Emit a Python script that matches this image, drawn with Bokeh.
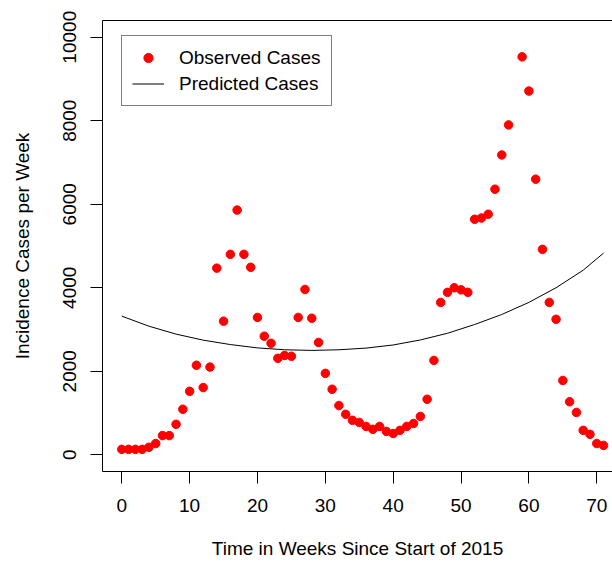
from bokeh.plotting import figure
from bokeh.models import Range1d, FixedTicker, LinearAxis, Legend, LegendItem
from bokeh.embed import file_html
from bokeh.resources import INLINE

# Observed weekly incidence (week 58 absent in source)
weeks = [0, 1, 2, 3, 4, 5, 6, 7, 8, 9, 10, 11, 12, 13, 14, 15, 16, 17, 18, 19,
         20, 21, 22, 23, 24, 25, 26, 27, 28, 29, 30, 31, 32, 33, 34, 35, 36, 37, 38, 39,
         40, 41, 42, 43, 44, 45, 46, 47, 48, 49, 50, 51, 52, 53, 54, 55, 56, 57,
         59, 60, 61, 62, 63, 64, 65, 66, 67, 68, 69, 70, 71]
observed = [130, 130, 130, 130, 180, 270, 460, 460, 730, 1090, 1520, 2145, 1610, 2100,
            4470, 3200, 4800, 5860, 4800, 4490, 3290, 2840, 2670, 2310, 2380, 2360,
            3290, 3960, 3270, 2690, 1950, 1570, 1180, 970, 825, 775, 680, 610, 680, 560,
            510, 585, 680, 750, 920, 1330, 2260, 3650, 3890, 4000, 3950, 3890, 5640,
            5670, 5760, 6360, 7180, 7900, 9530, 8710, 6600, 4920, 3650, 3245, 1780,
            1270, 1015, 585, 490, 270, 225]

# Predicted curve
pred_weeks = [0, 4, 8, 12, 16, 20, 24, 28, 32, 36, 40, 44, 48, 52, 56, 60, 64, 68, 71]
pred_vals = [3320, 3080, 2890, 2745, 2640, 2560, 2515, 2500, 2515, 2555, 2630, 2750,
             2910, 3120, 3360, 3650, 4000, 4420, 4830]

x_ticks = [0, 10, 20, 30, 40, 50, 60, 70]
y_ticks = [0, 2000, 4000, 6000, 8000, 10000]

FONT = "Liberation Sans"
FS = "19px"

p = figure(width=612, height=562, output_backend="svg", toolbar_location=None,
           x_range=Range1d(-2.84, 72.32), y_range=Range1d(-400, 10400),
           min_border_left=102, min_border_right=0, min_border_top=20,
           min_border_bottom=91)
p.outline_line_color = None
p.grid.visible = False
p.background_fill_color = "white"
p.border_fill_color = "white"

r_line = p.line(pred_weeks, pred_vals, line_color="black", line_width=1)
r_pts = p.scatter(weeks, observed, size=8.5, fill_color="#FF0000", line_color="#FF0000")

for ax in (p.xaxis[0], p.yaxis[0]):
    ax.axis_line_color = "black"
    ax.major_tick_line_color = "black"
    ax.major_tick_out = 12
    ax.major_tick_in = 0
    ax.minor_tick_out = 0
    ax.minor_tick_in = 0
    ax.major_label_text_font = FONT
    ax.major_label_text_font_size = FS
    ax.major_label_text_color = "black"
    ax.axis_label_text_font = FONT
    ax.axis_label_text_font_size = FS
    ax.axis_label_text_font_style = "normal"
    ax.axis_label_text_color = "black"

p.xaxis.ticker = FixedTicker(ticks=x_ticks)
p.xaxis.major_label_overrides = {t: str(t) for t in x_ticks}
p.xaxis.axis_label = "Time in Weeks Since Start of 2015"
p.xaxis.major_label_standoff = 15
p.xaxis.axis_label_standoff = 23

p.yaxis.ticker = FixedTicker(ticks=y_ticks)
p.yaxis.major_label_overrides = {t: str(t) for t in y_ticks}
p.yaxis.major_label_orientation = "vertical"
p.yaxis.axis_label = "Incidence Cases per Week"
p.yaxis.major_label_standoff = 14
p.yaxis.axis_label_standoff = 28

top = LinearAxis(ticker=FixedTicker(ticks=[]), major_label_text_font_size="0px",
                 major_tick_out=0, major_tick_in=0, minor_tick_out=0, minor_tick_in=0,
                 major_label_standoff=0, axis_line_color="black")
p.add_layout(top, "above")

legend = Legend(items=[LegendItem(label="Observed Cases", renderers=[r_pts]),
                       LegendItem(label="Predicted Cases", renderers=[r_line])],
                location=(19, 365))
legend.border_line_color = "black"
legend.border_line_width = 1
legend.background_fill_color = "white"
legend.background_fill_alpha = 1
legend.label_text_font = FONT
legend.label_text_font_size = FS
legend.label_text_color = "black"
legend.glyph_width = 32
legend.glyph_height = 23
legend.label_height = 23
legend.spacing = 3
legend.padding = 10
legend.label_standoff = 15
legend.margin = 0
p.add_layout(legend)

open("out.html", "w").write(file_html(p, INLINE))
